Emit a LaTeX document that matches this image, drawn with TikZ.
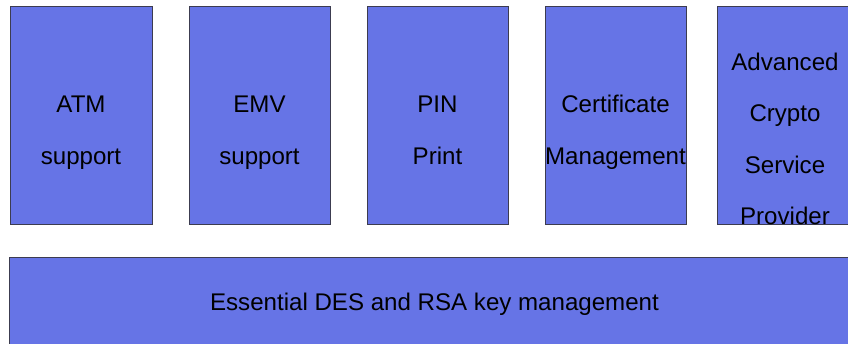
\documentclass[tikz,border=0pt]{standalone}
\usepackage{fontspec}
\setmainfont{Liberation Sans}
\definecolor{boxfill}{RGB}{102,116,230}
\definecolor{boxline}{RGB}{60,60,80}
\tikzset{
  blockbox/.style={draw=boxline, line width=0.9pt, fill=boxfill, rectangle, inner sep=0pt, anchor=north west},
  lbl/.style={font=\fontsize{24.1}{28}\selectfont, inner sep=0pt, text=black, anchor=base}
}
\begin{document}
\begin{tikzpicture}[x=1pt,y=-1pt]
\useasboundingbox (0,0) rectangle (848,343);
% top boxes
\node[blockbox, minimum width=142pt, minimum height=218pt] (atm) at (10,6) {};
\node[blockbox, minimum width=141pt, minimum height=218pt] (emv) at (189,6) {};
\node[blockbox, minimum width=141pt, minimum height=218pt] (pin) at (367,6) {};
\node[blockbox, minimum width=141pt, minimum height=218pt] (cert) at (545,6) {};
\node[blockbox, minimum width=140pt, minimum height=218pt] (acsp) at (717,6) {};
% bottom box
\node[blockbox, minimum width=850pt, minimum height=95pt] (ess) at (9,257) {};
% labels
\node[lbl] (t1a) at (81,112) {ATM};
\node[lbl] (t1b) at (81,164) {support};
\node[lbl] (t2a) at (259.5,112) {EMV};
\node[lbl] (t2b) at (259.5,164) {support};
\node[lbl] (t3a) at (437.5,112) {PIN};
\node[lbl] (t3b) at (437.5,164) {Print};
\node[lbl] (t4a) at (615.5,112) {Certificate};
\node[lbl] (t4b) at (615.5,164) {Management};
\node[lbl] (t5a) at (785,70) {Advanced};
\node[lbl] (t5b) at (785,121) {Crypto};
\node[lbl] (t5c) at (785,173) {Service};
\node[lbl] (t5d) at (785,224) {Provider};
\node[lbl] (t6) at (434.5,310) {Essential DES and RSA key management};
\end{tikzpicture}
\end{document}
